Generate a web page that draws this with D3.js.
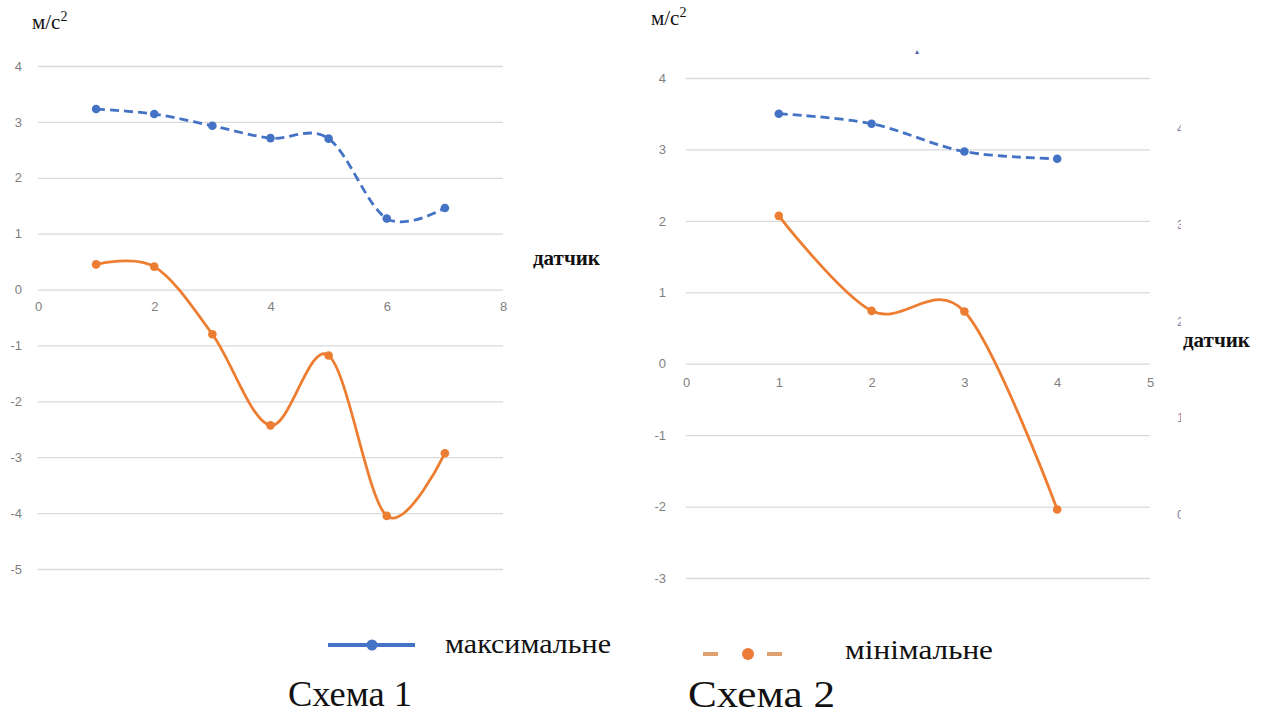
<!DOCTYPE html>
<html><head><meta charset="utf-8">
<script src="https://cdn.jsdelivr.net/npm/d3@7"></script>
<style>
body{margin:0;background:#fff;}
svg text{font-family:"Liberation Sans","Open Sans",sans-serif;}
.tick text{fill:#7f7f7f;font-size:13px;}
.tick line{stroke:#d9d9d9;}
.serif{font-family:"Liberation Serif","DejaVu Serif",serif !important;fill:#111;}
</style></head><body>
<svg id="c" width="1270" height="714"></svg>
<script>
// ---- data ----
const sensors1 = [1,2,3,4,5,6,7];
const max1 = [3.23,3.14,2.93,2.71,2.70,1.27,1.46];
const min1 = [0.45,0.41,-0.80,-2.43,-1.18,-4.05,-2.93];
const sensors2 = [1,2,3,4];
const max2 = [3.50,3.36,2.97,2.87];
const min2 = [2.07,0.74,0.73,-2.04];
const yTicks1 = [4,3,2,1,0,-1,-2,-3,-4,-5];
const xTicks1 = [0,2,4,6,8];
const yTicks2 = [4,3,2,1,0,-1,-2,-3];
const xTicks2 = [0,1,2,3,4,5];
const rightTicks2 = [4,3,2,1,0];
const seriesNames = ["максимальне","мінімальне"];
const captions = ["Схема 1","Схема 2"];
const unitLabel = "м/с";
const xLabel = "датчик";

const blue = "#4472C4", orange = "#ED7D31";
const svg = d3.select("#c");
const fmt = d => String(d);

function chart(cfg){
  const x = d3.scaleLinear().domain(cfg.xd).range(cfg.xr);
  const y = d3.scaleLinear().domain(cfg.yd).range(cfg.yr);
  const w = cfg.xr[1]-cfg.xr[0];
  const gy = svg.append("g").attr("transform",`translate(${cfg.xr[0]},0)`)
    .call(d3.axisLeft(y).tickValues(cfg.yt).tickSize(-w).tickPadding(cfg.yPad).tickFormat(fmt));
  gy.select(".domain").remove();
  gy.selectAll(".tick line").attr("stroke","#d9d9d9").attr("stroke-width",1.3);
  const gx = svg.append("g").attr("transform",`translate(0,${y(0)})`)
    .call(d3.axisBottom(x).tickValues(cfg.xt).tickSize(0).tickPadding(cfg.xPad).tickFormat(fmt));
  gx.select(".domain").remove();
  const line = d3.line().x((d,i)=>x(cfg.s[i])).y(d=>y(d)).curve(d3.curveCardinal.tension(0));
  svg.append("path").datum(cfg.max).attr("d",line).attr("fill","none").attr("stroke",blue)
    .attr("stroke-width",2.8).attr("stroke-dasharray","9,5");
  svg.append("path").datum(cfg.min).attr("d",line).attr("fill","none").attr("stroke",orange)
    .attr("stroke-width",2.8);
  svg.append("g").selectAll("circle").data(cfg.max).join("circle")
    .attr("cx",(d,i)=>x(cfg.s[i])).attr("cy",d=>y(d)).attr("r",4.3).attr("fill",blue);
  svg.append("g").selectAll("circle").data(cfg.min).join("circle")
    .attr("cx",(d,i)=>x(cfg.s[i])).attr("cy",d=>y(d)).attr("r",4.3).attr("fill",orange);
  const u = svg.append("text").attr("class","serif").attr("x",cfg.ux).attr("y",cfg.uy).attr("font-size",21);
  u.append("tspan").text(unitLabel);
  u.append("tspan").text("2").attr("font-size",14).attr("dy",-8);
  svg.append("text").attr("class","serif").attr("x",cfg.lx).attr("y",cfg.ly)
    .attr("font-size",21).attr("font-weight","bold").text(xLabel);
  svg.append("text").attr("class","serif").attr("x",cfg.cx).attr("y",cfg.cy)
    .attr("font-size",cfg.cfs).attr("textLength",cfg.cw).attr("lengthAdjust","spacingAndGlyphs").text(cfg.cap);
}

chart({s:sensors1,max:max1,min:min1,xd:[0,8],xr:[38,503],yd:[-5,4],yr:[569,66],
  yt:yTicks1,xt:xTicks1,yPad:16,xPad:12,ux:32,uy:29,lx:533,ly:265,cx:288,cy:706,cfs:36,cw:124,cap:captions[0]});
chart({s:sensors2,max:max2,min:min2,xd:[0,5],xr:[686,1150],yd:[-3,4],yr:[578,78],
  yt:yTicks2,xt:xTicks2,yPad:20,xPad:14,ux:651,uy:25,lx:1183,ly:347,cx:688,cy:707,cfs:38,cw:147,cap:captions[1]});

// clipped secondary axis labels (chart 2, right)
svg.append("clipPath").attr("id","rclip").append("rect").attr("x",1176).attr("y",60).attr("width",5).attr("height",480);
const yr2 = d3.scaleLinear().domain([0,4]).range([514,128]);
svg.append("g").attr("clip-path","url(#rclip)").selectAll("text").data(rightTicks2).join("text")
  .attr("x",1177).attr("y",d=>yr2(d)).attr("dy","0.35em").attr("font-size",13).attr("fill","#8a80a8").text(d=>d);
svg.append("text").attr("x",917).attr("y",54).attr("font-size",8).attr("text-anchor","middle").attr("fill","#5566aa").text("▴");

// legend
const lg = svg.append("g");
lg.append("line").attr("x1",328).attr("x2",415).attr("y1",645).attr("y2",645).attr("stroke",blue).attr("stroke-width",4);
lg.append("circle").attr("cx",372).attr("cy",645).attr("r",5.5).attr("fill",blue);
lg.append("text").attr("class","serif").attr("x",445).attr("y",653).attr("font-size",28)
  .attr("textLength",166).attr("lengthAdjust","spacingAndGlyphs").text(seriesNames[0]);
lg.append("line").attr("x1",703).attr("x2",718).attr("y1",654).attr("y2",654).attr("stroke","#e0a070").attr("stroke-width",4);
lg.append("line").attr("x1",767).attr("x2",782).attr("y1",654).attr("y2",654).attr("stroke","#e0a070").attr("stroke-width",4);
lg.append("circle").attr("cx",748).attr("cy",654).attr("r",6).attr("fill","#ec7b3a");
lg.append("text").attr("class","serif").attr("x",845).attr("y",659).attr("font-size",28)
  .attr("textLength",148).attr("lengthAdjust","spacingAndGlyphs").text(seriesNames[1]);
</script></body></html>
